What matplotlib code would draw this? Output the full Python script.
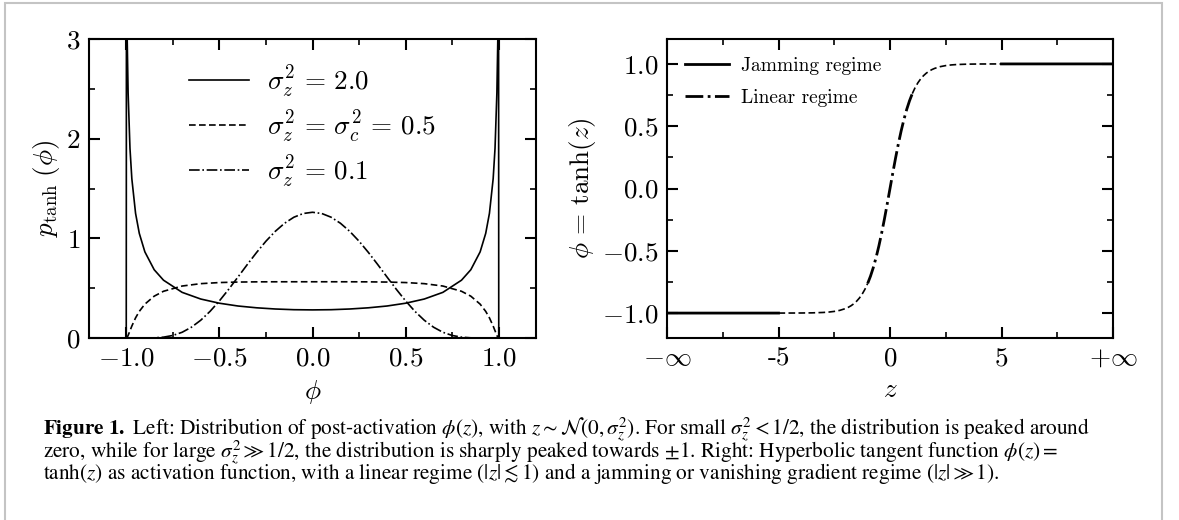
import numpy as np
import matplotlib
matplotlib.use("Agg")
import matplotlib.pyplot as plt
from matplotlib.patches import Rectangle
from matplotlib.ticker import MultipleLocator

plt.rcParams['font.family'] = 'serif'
plt.rcParams['font.serif'] = ['cmr10']
plt.rcParams['mathtext.fontset'] = 'cm'
plt.rcParams['axes.formatter.use_mathtext'] = True
plt.rcParams['axes.unicode_minus'] = True

# --- left panel: p_tanh(phi) ---
phi = [-1.0, -0.999, -0.995, -0.99, -0.98, -0.97, -0.95, -0.93, -0.9, -0.85,
       -0.8, -0.7, -0.6, -0.5, -0.4, -0.3, -0.2, -0.1, 0.0,
       0.1, 0.2, 0.3, 0.4, 0.5, 0.6, 0.7, 0.8,
       0.85, 0.9, 0.93, 0.95, 0.97, 0.98, 0.99, 0.995, 0.999, 1.0]
p_var_20 = [0.0, 3.816, 3.005, 2.460, 1.903, 1.598, 1.251, 1.050, 0.864, 0.685,
            0.580, 0.458, 0.391, 0.349, 0.321, 0.303, 0.291, 0.284, 0.282,
            0.284, 0.291, 0.303, 0.321, 0.349, 0.391, 0.458, 0.580,
            0.685, 0.864, 1.050, 1.251, 1.598, 1.903, 2.460, 3.005, 3.816, 0.0]
p_var_05 = [0.0, 0.0002, 0.0072, 0.0257, 0.0726, 0.1199, 0.2019, 0.2670, 0.3399, 0.4197,
            0.4688, 0.5214, 0.5453, 0.5563, 0.5613, 0.5634, 0.5640, 0.5642, 0.5642,
            0.5642, 0.5640, 0.5634, 0.5613, 0.5563, 0.5453, 0.5214, 0.4688,
            0.4197, 0.3399, 0.2670, 0.2019, 0.1199, 0.0726, 0.0257, 0.0072, 0.0002, 0.0]

phi_narrow = [-1.0, -0.9, -0.85, -0.8, -0.75, -0.7, -0.65, -0.6, -0.55, -0.5,
              -0.45, -0.4, -0.35, -0.3, -0.25, -0.2, -0.15, -0.1, -0.05, 0.0,
              0.05, 0.1, 0.15, 0.2, 0.25, 0.3, 0.35, 0.4, 0.45,
              0.5, 0.55, 0.6, 0.65, 0.7, 0.75, 0.8, 0.85, 0.9, 1.0]
p_var_01 = [0.0, 0.0001, 0.0017, 0.0084, 0.0254, 0.0575, 0.1082, 0.1784, 0.2673, 0.3721,
            0.4887, 0.6122, 0.7374, 0.8587, 0.9712, 1.0700, 1.1513, 1.2118, 1.2490, 1.2616,
            1.2490, 1.2118, 1.1513, 1.0700, 0.9712, 0.8587, 0.7374, 0.6122, 0.4887,
            0.3721, 0.2673, 0.1784, 0.1082, 0.0575, 0.0254, 0.0084, 0.0017, 0.0001, 0.0]

left_labels = [r'$\sigma_z^2 \,=\, 2.0$', r'$\sigma_z^2 \,=\, \sigma_c^2 \,=\, 0.5$', r'$\sigma_z^2 \,=\, 0.1$']

# --- right panel: tanh(z), split by regime ---
z_jam_lo = [-10.0, -5.0]
t_jam_lo = [-1.0, -0.9999]
z_jam_hi = [5.0, 10.0]
t_jam_hi = [0.9999, 1.0]

z_mid_lo = [-5.0, -4.0, -3.5, -3.0, -2.75, -2.5, -2.25, -2.0, -1.875, -1.75,
            -1.625, -1.5, -1.375, -1.25, -1.125, -1.0]
t_mid_lo = [-0.9999, -0.9993, -0.9982, -0.9951, -0.9919, -0.9866, -0.9780, -0.9640, -0.9541, -0.9414,
            -0.9254, -0.9052, -0.8798, -0.8483, -0.8093, -0.7616]
z_mid_hi = [1.0, 1.125, 1.25, 1.375, 1.5, 1.625, 1.75, 1.875, 2.0, 2.25,
            2.5, 2.75, 3.0, 3.5, 4.0, 5.0]
t_mid_hi = [0.7616, 0.8093, 0.8483, 0.8798, 0.9052, 0.9254, 0.9414, 0.9541, 0.9640, 0.9780,
            0.9866, 0.9919, 0.9951, 0.9982, 0.9993, 0.9999]

z_lin = [-1.0, -0.875, -0.75, -0.625, -0.5, -0.375, -0.25, -0.125, 0.0,
         0.125, 0.25, 0.375, 0.5, 0.625, 0.75, 0.875, 1.0]
t_lin = [-0.7616, -0.7039, -0.6352, -0.5546, -0.4621, -0.3584, -0.2449, -0.1244, 0.0,
         0.1244, 0.2449, 0.3584, 0.4621, 0.5546, 0.6352, 0.7039, 0.7616]

z_ticks = [-10, -5, 0, 5, 10]
z_ticklabels = [r'$-\infty$', '-5', r'$0$', r'$5$', r'$+\infty$']

caption_lines = [
    r'$\mathbf{Figure\ 1.}$ Left: Distribution of post-activation $\phi(z)$, with $z \sim \mathcal{N}(0, \sigma_z^2)$. '
    r'For small $\sigma_z^2 < 1/2$, the distribution is peaked around',
    r'zero, while for large $\sigma_z^2 \gg 1/2$, the distribution is sharply peaked towards $\pm1$. '
    r'Right: Hyperbolic tangent function $\phi(z) =$',
    r'$\tanh(z)$ as activation function, with a linear regime $(|z| \lesssim 1)$ and a jamming or vanishing gradient regime $(|z| \gg 1)$.',
]

FS = 19.5
W, H = 1179, 520
fig = plt.figure(figsize=(W / 100, H / 100), dpi=100)


def style_axes(ax):
    for s in ax.spines.values():
        s.set_linewidth(1.5)
    ax.tick_params(which='both', direction='in', top=True, right=True, labelsize=FS)
    ax.tick_params(which='major', length=8, width=1.5, pad=6)
    ax.tick_params(which='minor', length=4.5, width=1.2)


ax1 = fig.add_axes([89 / W, 1 - 338 / H, (536 - 89) / W, (338 - 39) / H])
ax1.plot(phi, p_var_20, color='k', lw=1.2, ls='-', label=left_labels[0])
ax1.plot(phi, p_var_05, color='k', lw=1.2, ls='--', dashes=(4, 2), label=left_labels[1])
ax1.plot(phi_narrow, p_var_01, color='k', lw=1.2, ls='-.', label=left_labels[2])
ax1.set_xlim(-1.2, 1.2)
ax1.set_ylim(0, 3)
ax1.xaxis.set_major_locator(MultipleLocator(0.5))
ax1.xaxis.set_minor_locator(MultipleLocator(0.25))
ax1.yaxis.set_major_locator(MultipleLocator(1))
ax1.yaxis.set_minor_locator(MultipleLocator(0.5))
ax1.set_xlabel(r'$\phi$', fontsize=FS, labelpad=6)
ax1.set_ylabel(r'$p_{\tanh}\,(\phi)$', fontsize=FS, labelpad=3)
style_axes(ax1)
ax1.legend(loc='upper center', bbox_to_anchor=(0.5, 1.0), frameon=False, fontsize=FS,
           handlelength=2.2, handletextpad=0.65, labelspacing=0.3)

ax2 = fig.add_axes([667 / W, 1 - 338 / H, (1113 - 667) / W, (338 - 39) / H])
ax2.plot(z_jam_lo, t_jam_lo, color='k', lw=2.0, ls='-', label='Jamming regime')
ax2.plot(z_jam_hi, t_jam_hi, color='k', lw=2.0, ls='-')
ax2.plot(z_mid_lo, t_mid_lo, color='k', lw=1.2, ls='--', dashes=(4, 2))
ax2.plot(z_mid_hi, t_mid_hi, color='k', lw=1.2, ls='--', dashes=(4, 2))
ax2.plot(z_lin, t_lin, color='k', lw=2.0, ls='-.', label='Linear regime')
ax2.set_xlim(-10, 10)
ax2.set_ylim(-1.2, 1.2)
ax2.set_xticks(z_ticks)
ax2.set_xticklabels(z_ticklabels)
ax2.xaxis.set_minor_locator(MultipleLocator(2.5))
ax2.yaxis.set_major_locator(MultipleLocator(0.5))
ax2.yaxis.set_minor_locator(MultipleLocator(0.25))
ax2.set_xlabel(r'$z$', fontsize=FS, labelpad=6)
ax2.set_ylabel(r'$\phi \,=\, \tanh(z)$', fontsize=FS, labelpad=3)
style_axes(ax2)
ax2.legend(loc='upper left', bbox_to_anchor=(0.0, 1.0), frameon=False, fontsize=14,
           handlelength=2.3, handletextpad=0.6, labelspacing=0.75)

# caption as one multi-line text block
fig.text(43 / W, 1 - 415 / H, '\n'.join(caption_lines), fontsize=15.3, family='STIXGeneral',
         math_fontfamily='stix', va='top', ha='left', linespacing=0.7)

# light frame around the figure panel
fig.patches.append(Rectangle((5 / W, -0.02), 1157 / W, 1.02 - 2.5 / H, transform=fig.transFigure,
                             fill=False, edgecolor='#c4c4c4', lw=1.5, clip_on=False))

fig.savefig('out.png', dpi=100)
